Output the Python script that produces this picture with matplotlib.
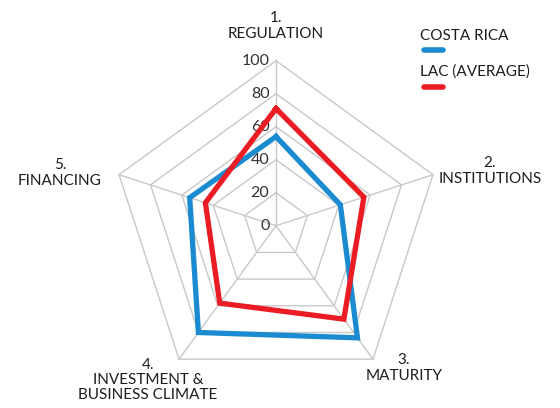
import numpy as np
import matplotlib
matplotlib.use("Agg")
import matplotlib.pyplot as plt

categories = ["1.\nREGULATION", "2.\nINSTITUTIONS", "3.\nMATURITY",
              "4.\nINVESTMENT &\nBUSINESS CLIMATE", "5.\nFINANCING"]
costa_rica = [54, 41, 84, 80, 55]
lac_avg = [71, 56, 70, 58, 45]
ticks = [0, 20, 40, 60, 80, 100]
series_names = ["COSTA RICA", "LAC (AVERAGE)"]

blue = "#1a8bd0"
red = "#ec1c24"
grid_col = "#c8c8c8"
txt_col = "#1e1e1e"

plt.rcParams['font.family'] = ['Lato', 'DejaVu Sans']

n = len(categories)
ang = np.pi / 2 - np.arange(n) * 2 * np.pi / n

W, H = 560, 408
cx, cy = 276, 225.7   # chart centre in pixels from top-left
s = 100 / 165.0       # value units per pixel


def xy(vals):
    v = np.asarray(vals, dtype=float)
    x = v * np.cos(ang)
    y = v * np.sin(ang)
    return np.append(x, x[0]), np.append(y, y[0])


def px(x, y):
    # pixel position (from top-left) -> data coords
    return (x - cx) * s, (cy - y) * s


fig = plt.figure(figsize=(5.6, 4.08), dpi=100)
ax = fig.add_axes([0, 0, 1, 1])
ax.set_xlim(-cx * s, (W - cx) * s)
ax.set_ylim(-(H - cy) * s, cy * s)
ax.axis('off')

# pentagon grid
for t in ticks[1:]:
    gx, gy = xy([t] * n)
    ax.plot(gx, gy, color=grid_col, lw=1, zorder=1)
for a in ang:
    ax.plot([0, 100 * np.cos(a)], [0, 100 * np.sin(a)], color=grid_col, lw=1, zorder=1)

for t in ticks:
    ax.text(-4, t, str(t), ha='right', va='center', fontsize=11.5, color='#333333', zorder=2)

x, y = xy(costa_rica)
ax.plot(x, y, color=blue, lw=3.8, solid_joinstyle='miter', zorder=3)
x, y = xy(lac_avg)
ax.plot(x, y, color=red, lw=3.8, solid_joinstyle='miter', zorder=4)

# category labels (pixel positions of label centres)
lab_px = [(276, 26), (490, 171), (404, 368), (148, 380), (60, 173)]
for lab, (lx, ly) in zip(categories, lab_px):
    ax.text(*px(lx, ly), lab, ha='center', va='center', fontsize=11, color=txt_col,
            linespacing=1.1, multialignment='center')

# legend
for name, col, ty, ly in zip(series_names, [blue, red], [36, 72], [50, 87]):
    ax.text(*px(420, ty), name, fontsize=11, color=txt_col, va='center', ha='left')
    x0, y0 = px(424, ly)
    x1, _ = px(443, ly)
    ax.plot([x0, x1], [y0, y0], color=col, lw=4, solid_capstyle='round')

fig.savefig("out.png", dpi=100)
